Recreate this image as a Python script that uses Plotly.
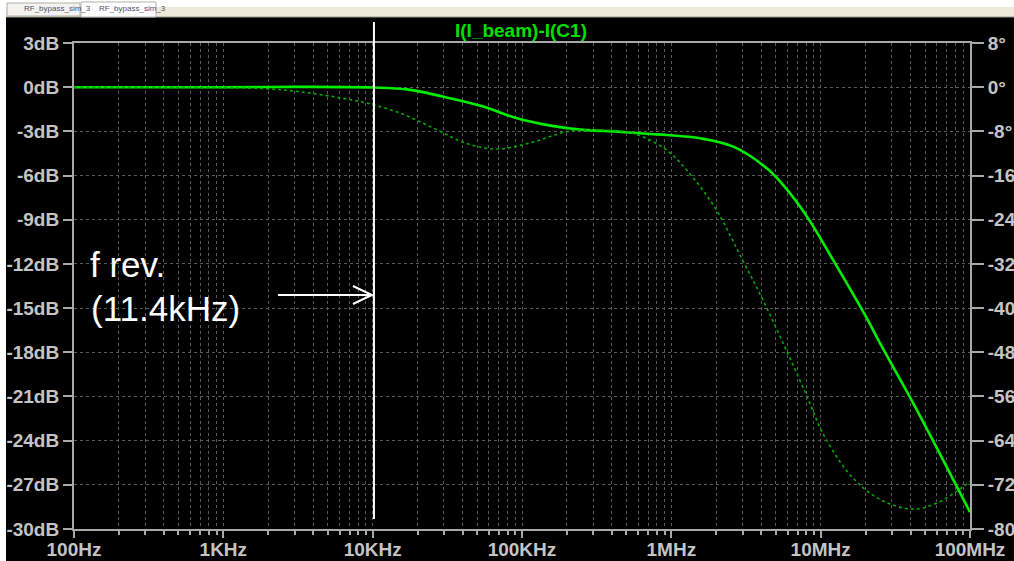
import plotly.graph_objects as go

# ---------------- data ----------------
freq_mag = [100, 1000, 3000, 10000, 17000, 33000, 55000, 92600, 155000, 257000,
            433000, 725000, 930000, 1.56e6, 2.6e6, 4.36e6, 5.6e6, 8.1e6, 12.1e6,
            20.4e6, 25e6, 41.9e6, 100e6]
mag_db = [0, 0, 0.02, -0.02, -0.15, -0.75, -1.32, -2.11, -2.61, -2.9,
          -3.02, -3.18, -3.25, -3.47, -4.04, -5.51, -6.64, -8.79, -11.73,
          -15.7, -17.4, -21.5, -28.85]

freq_ph = [100, 1000, 2000, 3200, 5400, 9200, 15300, 25500, 42600, 68000, 120000,
           200000, 333000, 560000, 930000, 1.35e6, 2.0e6, 3.0e6, 4.1e6, 6.0e6,
           8.1e6, 10.3e6, 14.8e6, 20e6, 27.6e6, 41.7e6, 60e6, 81e6, 100e6]
phase_deg = [0, -0.1, -0.3, -0.8, -1.7, -2.9, -4.7, -7.4, -10.2, -11.2, -9.9,
             -8.05, -7.75, -8.4, -11.4, -15.9, -22.2, -31.3, -38.5, -48.1,
             -56.0, -62.6, -69.3, -72.9, -75.2, -76.4, -75.3, -73.2, -71.4]

x_tickvals = [1e2, 1e3, 1e4, 1e5, 1e6, 1e7, 1e8]
x_ticktext = ["100Hz", "1KHz", "10KHz", "100KHz", "1MHz", "10MHz", "100MHz"]
x_minor = [m * 10 ** d for d in range(2, 8) for m in range(2, 10)]
y_left_ticks = [3, 0, -3, -6, -9, -12, -15, -18, -21, -24, -27, -30]
y_left_text = ["3dB", "0dB", "-3dB", "-6dB", "-9dB", "-12dB", "-15dB", "-18dB",
               "-21dB", "-24dB", "-27dB", "-30dB"]
y_right_ticks = [8, 0, -8, -16, -24, -32, -40, -48, -56, -64, -72, -80]
y_right_text = ["8°", "0°", "-8°", "-16°", "-24°", "-32°", "-40°", "-48°",
                "-56°", "-64°", "-72°", "-80°"]

f_rev_marker = 10200  # position of the white marker line
title_text = "I(I_beam)-I(C1)"
tab_label = "RF_bypass_sim_3"

# ---------------- layout helpers ----------------
W, H = 1014, 561
L, R, T, B = 74, 44, 43, 32
PW, PH = W - L - R, H - T - B


def px_x(p):
    return (p - L) / PW


def px_y(p):
    return (H - B - p) / PH


FONT = "Liberation Sans"
AXC = "#a8a8a8"
LBL = "#c4c4c4"
GRID = "#5a5a5a"

fig = go.Figure()
fig.add_trace(go.Scatter(x=freq_ph, y=phase_deg, yaxis="y2", mode="lines",
                         line=dict(color="#00a800", width=1.6, dash="dot", shape="spline"),
                         showlegend=False, hoverinfo="skip"))
fig.add_trace(go.Scatter(x=freq_mag, y=mag_db, mode="lines",
                         line=dict(color="#00ee00", width=2.6, shape="spline"),
                         showlegend=False, hoverinfo="skip"))

tickfont = dict(family=FONT, size=19, color=LBL, weight="bold")
fig.update_layout(
    width=W, height=H, autosize=False,
    margin=dict(l=L, r=R, t=T, b=B, pad=0, autoexpand=False),
    paper_bgcolor="black", plot_bgcolor="black",
    xaxis=dict(type="log", range=[2, 8], tickmode="array", tickvals=x_tickvals, ticktext=x_ticktext,
               showline=True, linecolor=AXC, linewidth=2, mirror=True, automargin=False,
               ticks="outside", ticklen=7, tickwidth=2, tickcolor=AXC, ticklabelstandoff=-5,
               showgrid=True, gridcolor=GRID, griddash="dot", gridwidth=1,
               tickfont=tickfont,
               minor=dict(tickvals=x_minor, ticks="outside", ticklen=4, tickwidth=2,
                          tickcolor=AXC, showgrid=True, gridcolor=GRID,
                          griddash="dot", gridwidth=1),
               zeroline=False, fixedrange=True),
    yaxis=dict(range=[-30, 3], tickmode="array", tickvals=y_left_ticks, ticktext=y_left_text,
               showline=True, linecolor=AXC, linewidth=2, mirror=True, automargin=False,
               ticks="outside", ticklen=9, tickwidth=2, tickcolor=AXC,
               showgrid=True, gridcolor=GRID, griddash="dot", gridwidth=1,
               tickfont=tickfont, zeroline=False, fixedrange=True),
    yaxis2=dict(range=[-80, 8], tickmode="array", tickvals=y_right_ticks, ticktext=y_right_text,
                overlaying="y", side="right", showgrid=False, automargin=False,
                showline=True, linecolor=AXC, linewidth=2,
                ticks="outside", ticklen=12, tickwidth=2, tickcolor=AXC,
                tickfont=tickfont, zeroline=False, fixedrange=True),
)

shapes = []
# window chrome: top white strip, beige tab bar, left white strip
shapes.append(dict(type="rect", xref="paper", yref="paper", x0=px_x(-5), x1=px_x(W + 5),
                   y0=px_y(17), y1=px_y(-5), fillcolor="#ece9d8", line=dict(width=0)))
shapes.append(dict(type="rect", xref="paper", yref="paper", x0=px_x(-5), x1=px_x(W + 5),
                   y0=px_y(7), y1=px_y(-5), fillcolor="white", line=dict(width=0)))
shapes.append(dict(type="line", xref="paper", yref="paper", x0=px_x(6), x1=px_x(W + 5),
                   y0=px_y(17), y1=px_y(17), line=dict(color="#9a9a90", width=1)))
shapes.append(dict(type="rect", xref="paper", yref="paper", x0=px_x(-5), x1=px_x(6),
                   y0=px_y(H + 5), y1=px_y(-5), fillcolor="white", line=dict(width=0)))
# tabs
shapes.append(dict(type="rect", xref="paper", yref="paper", x0=px_x(7), x1=px_x(80),
                   y0=px_y(16), y1=px_y(3), fillcolor="#f4f3ee", line=dict(color="#b0b0a8", width=1)))
shapes.append(dict(type="rect", xref="paper", yref="paper", x0=px_x(81), x1=px_x(156),
                   y0=px_y(17), y1=px_y(2), fillcolor="white", line=dict(color="#b0b0a8", width=1)))
# top border extends a little past the right axis
shapes.append(dict(type="line", xref="paper", yref="paper", x0=1, x1=px_x(982),
                   y0=1, y1=1, line=dict(color=AXC, width=2)))
# vertical marker line
shapes.append(dict(type="line", xref="x", yref="paper", x0=f_rev_marker, x1=f_rev_marker,
                   y0=px_y(519), y1=px_y(22), line=dict(color="white", width=2)))
# arrow (pixel-sized, anchored at the marker line)
arrow_y = (87.2 - 295) / ((529 - 43) / 33)
shapes.append(dict(type="path", xref="x", yref="y", xsizemode="pixel", ysizemode="pixel",
                   xanchor=f_rev_marker, yanchor=arrow_y,
                   path="M -96 0 L -2 0 M -21 9 L -2 0 L -21 -9",
                   line=dict(color="white", width=2)))
fig.update_layout(shapes=shapes)

annotations = [
    dict(text=title_text, xref="paper", yref="paper", x=px_x(521), y=px_y(31),
         xanchor="center", yanchor="middle", showarrow=False,
         font=dict(family=FONT, size=19, color="#00e000", weight="bold")),
    dict(text="f rev.", xref="paper", yref="paper", x=px_x(88), y=px_y(264),
         xanchor="left", yanchor="middle", showarrow=False,
         font=dict(family=FONT, size=35, color="white")),
    dict(text="(11.4kHz)", xref="paper", yref="paper", x=px_x(89), y=px_y(308),
         xanchor="left", yanchor="middle", showarrow=False,
         font=dict(family=FONT, size=35, color="white")),
    dict(text=tab_label, xref="paper", yref="paper", x=px_x(22), y=px_y(9),
         xanchor="left", yanchor="middle", showarrow=False,
         font=dict(family=FONT, size=8, color="#505070")),
    dict(text=tab_label, xref="paper", yref="paper", x=px_x(97), y=px_y(8),
         xanchor="left", yanchor="middle", showarrow=False,
         font=dict(family=FONT, size=8, color="#505070")),
]
fig.update_layout(annotations=annotations)

post = ("document.documentElement.style.margin='0';document.body.style.margin='0';"
        "document.body.style.padding='0';document.body.style.overflow='hidden';")
fig.write_html("out.html", config={"displayModeBar": False, "responsive": False},
               post_script=post)
